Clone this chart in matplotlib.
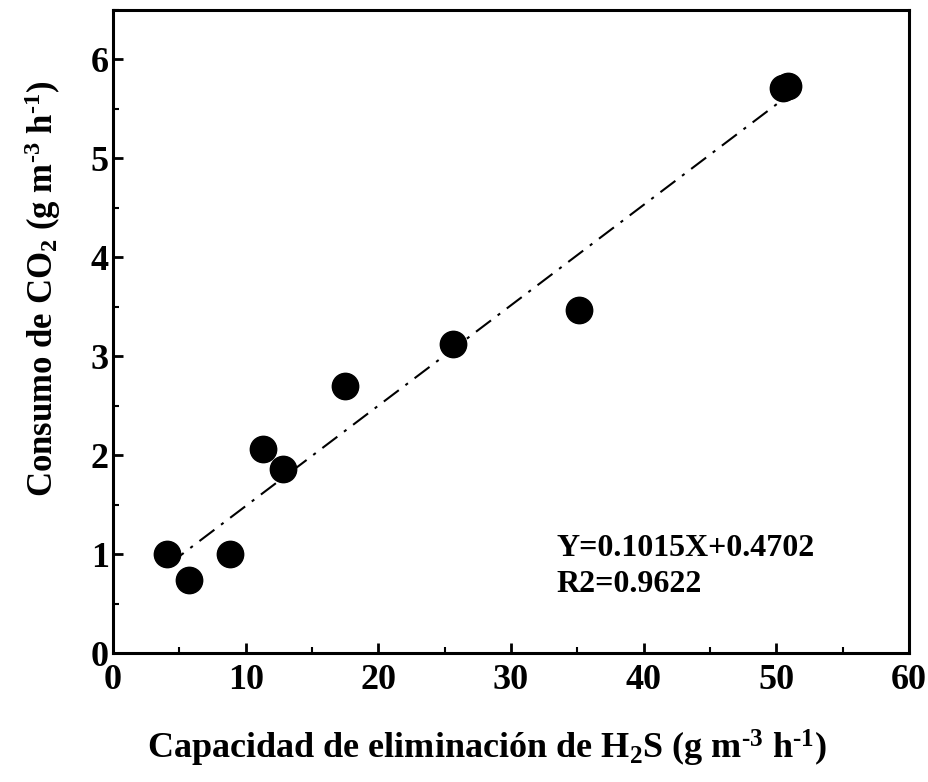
import matplotlib
matplotlib.use("Agg")
import matplotlib.pyplot as plt
import numpy as np
from matplotlib.ticker import MultipleLocator

plt.rcParams['font.family'] = 'Liberation Serif'
plt.rcParams['font.weight'] = 'bold'
plt.rcParams['axes.labelweight'] = 'bold'
plt.rcParams['mathtext.fontset'] = 'custom'
plt.rcParams['mathtext.rm'] = 'Liberation Serif:bold'
plt.rcParams['mathtext.it'] = 'Liberation Serif:bold'
plt.rcParams['mathtext.bf'] = 'Liberation Serif:bold'
plt.rcParams['mathtext.default'] = 'rm'

# data
ec_h2s = [4.1, 5.7, 8.8, 11.3, 12.8, 17.5, 25.6, 35.1, 50.5, 50.9]
co2_cons = [1.00, 0.74, 1.00, 2.06, 1.86, 2.70, 3.12, 3.47, 5.71, 5.73]
slope = 0.1015
intercept = 0.4702
fit_x = [4.2, 50.5]

fig = plt.figure(figsize=(9.29, 7.82), dpi=100)
ax = fig.add_axes([113 / 929, 1 - 653 / 782, (909 - 113) / 929, (653 - 10) / 782])

fx = np.array(fit_x)
ax.plot(fx, slope * fx + intercept, color='black', lw=1.5, dashes=(9, 4, 1.5, 4))
ax.plot(ec_h2s, co2_cons, 'o', color='black', markersize=19)

ax.text(33.4, 1.06, 'Y=0.1015X+0.4702', fontsize=23, fontweight='bold', va='center')
ax.text(33.4, 0.69, 'R2=0.9622', fontsize=23, fontweight='bold', va='center')

ax.set_xlim(0, 60)
ax.set_ylim(0, 6.5)
ax.xaxis.set_major_locator(MultipleLocator(10))
ax.xaxis.set_minor_locator(MultipleLocator(5))
ax.yaxis.set_major_locator(MultipleLocator(1))
ax.yaxis.set_minor_locator(MultipleLocator(0.5))
ax.tick_params(which='major', direction='in', length=7, width=2, labelsize=26, pad=3)
ax.tick_params(axis='x', which='major', pad=8)
ax.tick_params(which='minor', direction='in', length=4, width=1.5)
for lab in ax.get_xticklabels() + ax.get_yticklabels():
    lab.set_fontweight('bold')
for s in ax.spines.values():
    s.set_linewidth(2.2)

ax.set_xlabel(r'Capacidad de eliminación de H$_2$S (g m$^{\text{-3}}$ h$^{\text{-1}}$)',
              fontsize=26, fontweight='bold')
ax.set_ylabel(r'Consumo de CO$_2$ (g m$^{\text{-3}}$ h$^{\text{-1}}$)',
              fontsize=25, fontweight='bold')
ax.xaxis.set_label_coords(0.47, -0.117)
ax.yaxis.set_label_coords(-0.063, 0.567)

fig.savefig('out.png', dpi=100)
